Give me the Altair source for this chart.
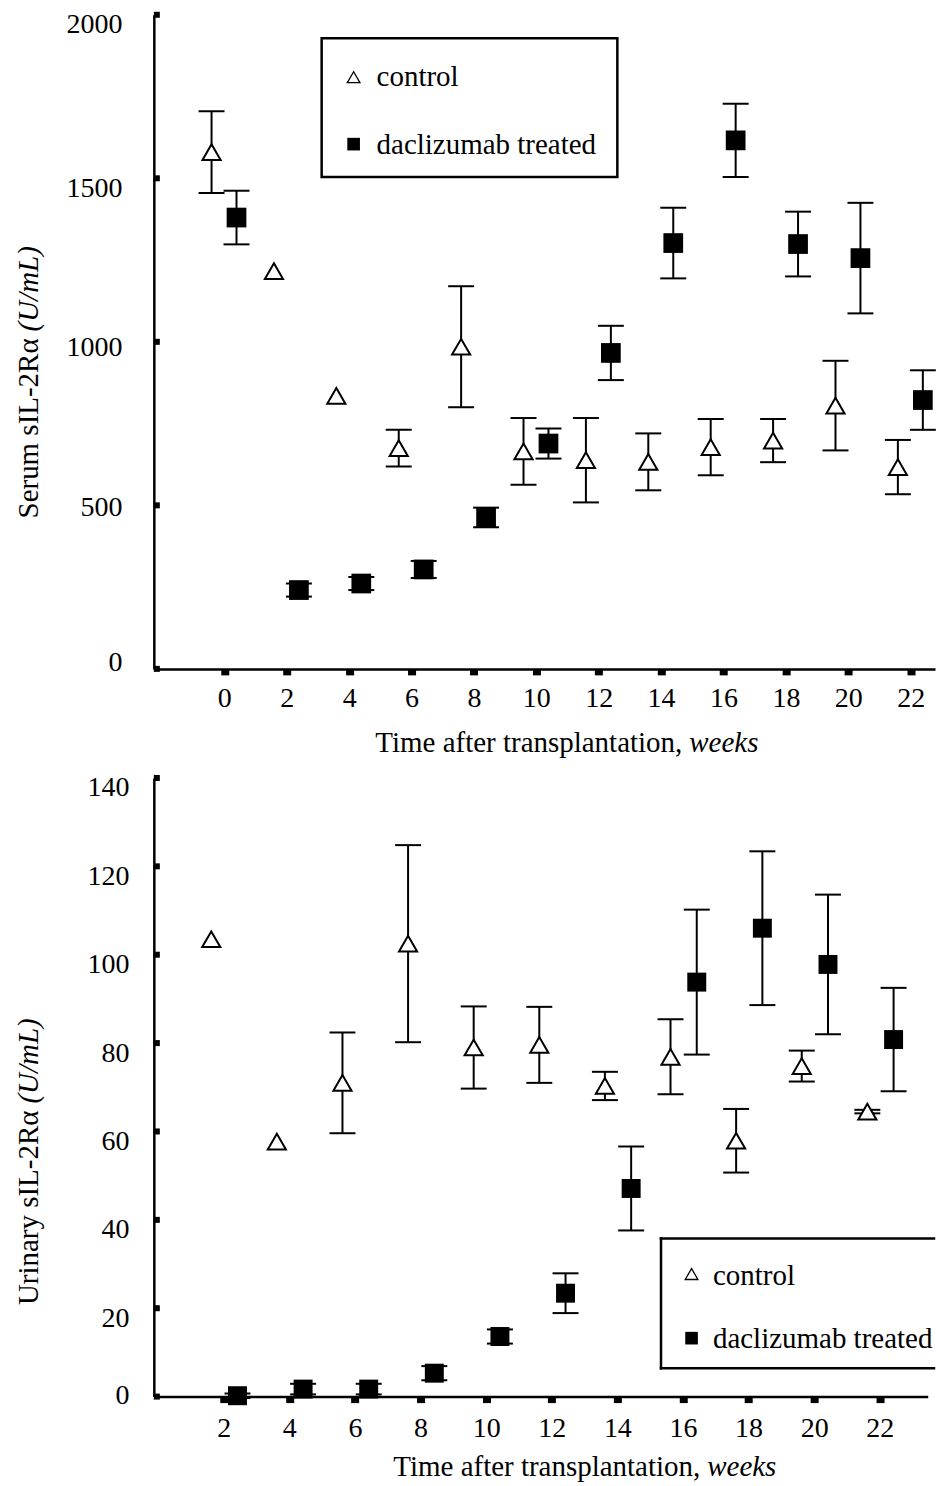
import altair as alt
import pandas as pd

FONT = "Liberation Serif"

# ---- serum sIL-2Ra (U/mL), mean and error per sampling week ----
serum_weeks = [0, 2, 4, 6, 8, 10, 12, 14, 16, 18, 20, 22]
serum_control = [1580, 1216, 835, 675, 985, 665, 638, 633, 678, 698, 805, 617]
serum_control_err = [125, None, None, 56, 185, 102, 129, 87, 86, 66, 137, 83]
serum_dac = [1380, 241, 261, 304, 463, 689, 966, 1302, 1616, 1299, 1256, 822]
serum_dac_err = [82, 20, 20, 26, 30, 46, 83, 108, 112, 99, 169, 91]

# ---- urinary sIL-2Ra (U/mL) ----
urine_weeks = [2, 4, 6, 8, 10, 12, 14, 16, 18, 20, 22]
urine_control = [103.5, 57.7, 71, 102.5, 79, 79.6, 70.3, 76.9, 57.9, 74.8, 64.5]
urine_control_err = [None, None, 11.4, 22.3, 9.3, 8.6, 3.2, 8.5, 7.2, 3.5, 0.4]
urine_dac = [0.2, 1.7, 1.7, 5.3, 13.6, 23.4, 47.1, 93.8, 106, 97.8, 80.8]
urine_dac_err = [0.5, 1.2, 1.2, 1.6, 1.6, 4.5, 9.5, 16.4, 17.4, 15.8, 11.7]

# ---- axis tick values ----
serum_x_ticks = [0, 2, 4, 6, 8, 10, 12, 14, 16, 18, 20, 22]
serum_y_ticks = [0, 500, 1000, 1500, 2000]
urine_x_ticks = [2, 4, 6, 8, 10, 12, 14, 16, 18, 20, 22]
urine_y_ticks = [0, 20, 40, 60, 80, 100, 120, 140]

legend_labels = ["control", "daclizumab treated"]
x_title = ["Time after transplantation,", "weeks"]
WORD_GAP = 7  # width of a space at the title font size


def build_table(weeks, ctrl, ctrl_err, dac, dac_err, shift_ctrl, shift_dac):
    rows = []
    for w, m, e in zip(weeks, ctrl, ctrl_err):
        rows.append({"week": w, "pos": w + shift_ctrl, "mean": m, "err": e, "group": "control"})
    for w, m, e in zip(weeks, dac, dac_err):
        rows.append({"week": w, "pos": w + shift_dac, "mean": m, "err": e, "group": "dac"})
    df = pd.DataFrame(rows)
    df["lo"] = df["mean"] - df["err"]
    df["hi"] = df["mean"] + df["err"]
    return df


def panel(df, xdomain, xticks, ydomain, yticks, width, height,
          label_pad_x, label_pad_y, y_offset_cond, ytitle, ytitle_y,
          xtitle_x, xtitle_y, legend, sq_size):
    xscale = alt.Scale(domain=xdomain, nice=False, zero=False)
    yscale = alt.Scale(domain=ydomain, nice=False, zero=False)
    xaxis = alt.Axis(values=xticks, title=None, grid=False, tickSize=6, tickWidth=8,
                     tickColor="black", domainColor="black", domainWidth=2.5,
                     labelFont=FONT, labelFontSize=28, labelColor="black", format="d",
                     labelBaseline="alphabetic", labelPadding=label_pad_x,
                     labelFlush=False, labelOverlap=False)
    yaxis = alt.Axis(values=yticks, title=None, grid=False, ticks=False,
                     domainColor="black", domainWidth=2.5, format="d",
                     labelFont=FONT, labelFontSize=28, labelColor="black",
                     labelBaseline="middle", labelPadding=label_pad_y,
                     labelOffset=y_offset_cond, labelFlush=False, labelOverlap=False)

    X = alt.X("pos:Q", scale=xscale, axis=xaxis)
    base = alt.Chart(df)
    bars = base.transform_filter("isValid(datum.err)")

    stems = bars.mark_rule(color="black", strokeWidth=2).encode(
        x=X, y=alt.Y("lo:Q", scale=yscale, axis=yaxis), y2="hi:Q")
    caps = bars.transform_fold(["lo", "hi"], as_=["end", "yv"]).mark_tick(
        orient="horizontal", size=26, thickness=2, color="black", opacity=1
    ).encode(x=X, y=alt.Y("yv:Q", scale=yscale, axis=yaxis))

    tri = base.transform_filter("datum.group == 'control'").mark_point(
        shape="triangle-up", filled=True, fill="white", stroke="black",
        strokeWidth=2, size=330, opacity=1
    ).encode(x=X, y=alt.Y("mean:Q", scale=yscale, axis=yaxis))
    sq = base.transform_filter("datum.group == 'dac'").mark_square(
        size=sq_size, color="black", opacity=1
    ).encode(x=X, y=alt.Y("mean:Q", scale=yscale, axis=yaxis))

    # inward square tick marks on the value axis
    yt = alt.Chart(pd.DataFrame({"t": yticks})).mark_square(
        size=36, color="black", opacity=1
    ).encode(x=alt.value(3), y=alt.Y("t:Q", scale=yscale, axis=yaxis))

    one = pd.DataFrame({"k": [0]})
    txt = dict(font=FONT, fontSize=29, color="black", baseline="alphabetic")

    ytitle_a = alt.Chart(one).mark_text(angle=270, align="right", text=ytitle[0], **txt).encode(
        x=alt.value(-116), y=alt.value(ytitle_y + WORD_GAP))
    ytitle_b = alt.Chart(one).mark_text(angle=270, align="left", text=ytitle[1],
                                        fontStyle="italic", **txt).encode(
        x=alt.value(-116), y=alt.value(ytitle_y))
    xtitle_a = alt.Chart(one).mark_text(align="right", text=x_title[0], **txt).encode(
        x=alt.value(xtitle_x - WORD_GAP), y=alt.value(xtitle_y))
    xtitle_b = alt.Chart(one).mark_text(align="left", text=x_title[1], fontStyle="italic",
                                        **txt).encode(
        x=alt.value(xtitle_x), y=alt.value(xtitle_y))

    layers = [stems, caps, tri, sq, yt, ytitle_a, ytitle_b, xtitle_a, xtitle_b]

    # legend box
    bx0, bx1, by0, by1 = legend["box"]
    if legend["open_right"]:
        edge = dict(color="black", strokeWidth=2.5, strokeCap="square")
        layers += [
            alt.Chart(one).mark_rule(**edge).encode(
                x=alt.value(bx0), x2=alt.value(bx1), y=alt.value(by0)),
            alt.Chart(one).mark_rule(**edge).encode(
                x=alt.value(bx0), x2=alt.value(bx1), y=alt.value(by1)),
            alt.Chart(one).mark_rule(**edge).encode(
                x=alt.value(bx0), y=alt.value(by0), y2=alt.value(by1)),
        ]
    else:
        layers.append(alt.Chart(one).mark_rect(fill="white", stroke="black", strokeWidth=2.5).encode(
            x=alt.value(bx0), x2=alt.value(bx1), y=alt.value(by0), y2=alt.value(by1)))
    sx, ty, sy = legend["sym_x"], legend["tri_y"], legend["sq_y"]
    tx, t1, t2 = legend["text_x"], legend["text1_y"], legend["text2_y"]
    layers += [
        alt.Chart(one).mark_point(shape="triangle-up", filled=True, fill="white", stroke="black",
                                  strokeWidth=1.3, size=160, opacity=1).encode(
            x=alt.value(sx), y=alt.value(ty)),
        alt.Chart(one).mark_square(size=160, color="black", opacity=1).encode(
            x=alt.value(sx), y=alt.value(sy)),
        alt.Chart(one).mark_text(align="left", text=legend_labels[0], **txt).encode(
            x=alt.value(tx), y=alt.value(t1)),
        alt.Chart(one).mark_text(align="left", text=legend_labels[1], **txt).encode(
            x=alt.value(tx), y=alt.value(t2)),
    ]
    return alt.layer(*layers).properties(width=width, height=height)


serum_df = build_table(serum_weeks, serum_control, serum_control_err,
                       serum_dac, serum_dac_err, -0.41, 0.39)
urine_df = build_table(urine_weeks, urine_control, urine_control_err,
                       urine_dac, urine_dac_err, -0.38, 0.42)

serum_offsets = {"condition": [{"test": "datum.value == 0", "value": -6},
                               {"test": "datum.value == 500", "value": 2},
                               {"test": "datum.value == 1000", "value": 6}],
                 "value": 10}
urine_offsets = {"condition": {"test": "datum.value == 0", "value": -1}, "value": 10}

top = panel(serum_df, [-2.26, 22.78], serum_x_ticks, [0, 2000], serum_y_ticks,
            782, 654.8, 32, 32, serum_offsets,
            ["Serum sIL-2R\u03b1", "(U/mL)"], 317, 536, 738.5,
            {"box": (168, 464, 23.5, 162.5), "open_right": False,
             "sym_x": 200, "tri_y": 62.5, "sq_y": 129.5,
             "text_x": 223, "text1_y": 71, "text2_y": 139.5}, 390)

bottom = panel(urine_df, [-0.13, 23.46], urine_x_ticks, [0, 140], urine_y_ticks,
               774.7, 619.3, 34, 25, urine_offsets,
               ["Urinary sIL-2R\u03b1", "(U/mL)"], 326, 554, 698.3,
               {"box": (507.7, 781, 461, 591), "open_right": True,
                "sym_x": 538.3, "tri_y": 496.6, "sq_y": 560.8,
                "text_x": 559.7, "text1_y": 507.3, "text2_y": 570.6}, 360)

chart = alt.vconcat(top, bottom, spacing=15).properties(
    padding={"left": 15, "top": 10, "right": 0, "bottom": 2}
).configure(font=FONT).configure_view(stroke=None)

chart.save("out.html", embed_options={"renderer": "svg", "actions": False})
